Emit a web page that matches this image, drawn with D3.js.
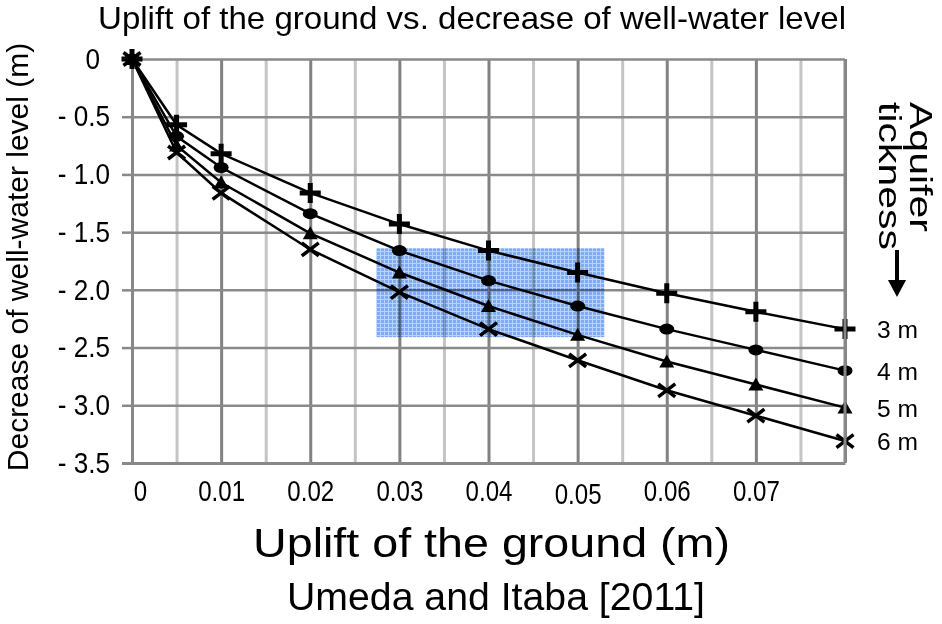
<!DOCTYPE html>
<html>
<head>
<meta charset="utf-8">
<script src="https://cdn.jsdelivr.net/npm/d3@7"></script>
<style>
  body { margin: 0; background: #fff; }
  svg { font-family: "Liberation Sans", Arial, sans-serif; display: block; }
</style>
</head>
<body>
<div id="chart"></div>
<script>
// plot box: x 132..845, y 59..463
const MARGIN = { LEFT: 132, RIGHT: 97, TOP: 59, BOTTOM: 161 }
const WIDTH = 942 - MARGIN.LEFT - MARGIN.RIGHT
const HEIGHT = 624 - MARGIN.TOP - MARGIN.BOTTOM

// uplift of the ground (m)
const uplift = [0, 0.005, 0.01, 0.02, 0.03, 0.04, 0.05, 0.06, 0.07, 0.08]
// decrease of well-water level (m) for each aquifer thickness
const thick3m = [0, -0.57, -0.82, -1.16, -1.43, -1.66, -1.85, -2.03, -2.19, -2.34]
const thick4m = [0, -0.67, -0.94, -1.34, -1.66, -1.92, -2.14, -2.34, -2.52, -2.70]
const thick5m = [0, -0.75, -1.07, -1.51, -1.85, -2.14, -2.39, -2.62, -2.82, -3.02]
const thick6m = [0, -0.81, -1.16, -1.65, -2.02, -2.34, -2.61, -2.87, -3.09, -3.31]
const seriesNames = ["3 m", "4 m", "5 m", "6 m"]
const seriesMarkers = ["plus", "circle", "triangle", "cross"]

const xTicks = [0, 0.01, 0.02, 0.03, 0.04, 0.05, 0.06, 0.07]
const xGridTicks = [0.005, 0.01, 0.015, 0.02, 0.025, 0.03, 0.035, 0.04, 0.045, 0.05, 0.055, 0.06, 0.065, 0.07, 0.075, 0.08]
const yTicks = [0, -0.5, -1.0, -1.5, -2.0, -2.5, -3.0, -3.5]

// shaded band
const bandX = [0.0274, 0.053]
const bandY = [-1.64, -2.41]

const svg = d3.select("#chart").append("svg")
  .attr("width", 942)
  .attr("height", 624)

const defs = svg.append("defs")
const pat = defs.append("pattern")
  .attr("id", "dots")
  .attr("width", 4).attr("height", 4)
  .attr("patternUnits", "userSpaceOnUse")
pat.append("rect").attr("width", 4).attr("height", 4).attr("fill", "#7eabf4")
pat.append("rect").attr("width", 4).attr("height", 1).attr("fill", "#b8d2fb")
pat.append("rect").attr("width", 1).attr("height", 4).attr("fill", "#b8d2fb")

const g = svg.append("g")
  .attr("transform", `translate(${MARGIN.LEFT}, ${MARGIN.TOP})`)

const x = d3.scaleLinear().domain([0, 0.08]).range([0, WIDTH])
const y = d3.scaleLinear().domain([0, -3.5]).range([0, HEIGHT])

// vertical grid
const vGrid = g.append("g")
  .attr("transform", `translate(0, ${HEIGHT})`)
  .call(d3.axisBottom(x).tickValues(xGridTicks).tickSize(-HEIGHT).tickFormat(""))
vGrid.select(".domain").remove()
vGrid.selectAll(".tick line")
  .attr("stroke", d => Math.round(d * 1000) % 10 === 0 ? "#828282" : "#c4c4c4")
  .attr("stroke-width", 3)

// horizontal grid
const hGrid = g.append("g")
  .call(d3.axisLeft(y).tickValues(yTicks.slice(0, -1)).tickSize(-WIDTH).tickFormat(""))
hGrid.select(".domain").remove()
hGrid.selectAll(".tick line").attr("stroke", "#8a8a8a").attr("stroke-width", 2.5)

// y axis
const yAxis = g.append("g")
  .call(d3.axisLeft(y).tickValues(yTicks).tickSize(10).tickPadding(12)
    .tickFormat(d => d === 0 ? "0" : "- " + Math.abs(d).toFixed(1)))
yAxis.select(".domain").attr("stroke", "#888").attr("stroke-width", 3)
yAxis.selectAll(".tick line").attr("stroke", "#888").attr("stroke-width", 2.5)
yAxis.selectAll(".tick text")
  .attr("font-size", 29)
  .attr("fill", "#000")
  .attr("dx", d => d === 0 ? -10 : 0)

// x axis
const xAxis = g.append("g")
  .attr("transform", `translate(0, ${HEIGHT})`)
  .call(d3.axisBottom(x).tickValues(xTicks).tickSize(0).tickPadding(17)
    .tickFormat(d => d === 0 ? "0" : d3.format(".2f")(d)))
xAxis.select(".domain").attr("stroke", "#888").attr("stroke-width", 3)
xAxis.selectAll(".tick text")
  .attr("font-size", 29)
  .attr("fill", "#000")
  .attr("dx", d => d === 0 ? 8 : 0)
  .attr("dy", d => d === 0.05 ? "0.82em" : "0.71em")

function squeeze(sel, k) {
  sel.each(function() {
    const len = this.getComputedTextLength()
    d3.select(this).attr("textLength", len * k).attr("lengthAdjust", "spacingAndGlyphs")
  })
}
squeeze(yAxis.selectAll(".tick text"), 0.9)
squeeze(xAxis.selectAll(".tick text"), 0.83)

// series
const allSeries = [thick3m, thick4m, thick5m, thick6m].map((vals, i) => ({
  name: seriesNames[i],
  marker: seriesMarkers[i],
  points: vals.map((v, j) => ({ u: uplift[j], d: v }))
}))

const line = d3.line().x(p => x(p.u)).y(p => y(p.d))

g.selectAll(".series-line")
  .data(allSeries)
  .enter()
  .append("path")
  .attr("class", "series-line")
  .attr("d", s => line(s.points))
  .attr("fill", "none")
  .attr("stroke", "#000")
  .attr("stroke-width", 2.5)

function drawMarker(sel, type) {
  if (type === "plus") {
    sel.append("path").attr("d", "M-10.5,0H10.5M0,-10V10")
      .attr("stroke", "#000").attr("stroke-width", 5)
  } else if (type === "circle") {
    sel.append("ellipse").attr("rx", 7.5).attr("ry", 5.5).attr("fill", "#000")
  } else if (type === "triangle") {
    sel.append("path").attr("d", "M0,-7L7.5,6H-7.5Z").attr("fill", "#000")
  } else {
    sel.append("path").attr("d", "M-8.5,-6.5L8.5,6.5M-8.5,6.5L8.5,-6.5")
      .attr("stroke", "#000").attr("stroke-width", 3.5)
  }
}

allSeries.forEach(s => {
  const m = g.append("g").selectAll("g")
    .data(s.points)
    .enter()
    .append("g")
    .attr("transform", p => `translate(${x(p.u)}, ${y(p.d)})`)
  drawMarker(m, s.marker)
})

// right border
g.append("line")
  .attr("x1", x(0.08)).attr("x2", x(0.08))
  .attr("y1", 0).attr("y2", HEIGHT)
  .attr("stroke", "#888").attr("stroke-width", 3)

// shaded band
g.append("rect")
  .attr("x", x(bandX[0]))
  .attr("y", y(bandY[0]))
  .attr("width", x(bandX[1]) - x(bandX[0]))
  .attr("height", y(bandY[1]) - y(bandY[0]))
  .attr("fill", "url(#dots)")
  .style("mix-blend-mode", "multiply")

// series labels on the right
g.selectAll(".series-label")
  .data(allSeries)
  .enter()
  .append("text")
  .attr("class", "series-label")
  .attr("x", WIDTH + 32)
  .attr("y", s => y(s.points[s.points.length - 1].d) + 9)
  .attr("font-size", 24)
  .attr("textLength", 41).attr("lengthAdjust", "spacingAndGlyphs")
  .text(s => s.name)

// titles
svg.append("text")
  .attr("x", 98).attr("y", 29)
  .attr("font-size", 32)
  .attr("textLength", 748).attr("lengthAdjust", "spacingAndGlyphs")
  .text("Uplift of the ground vs. decrease of well-water level")

svg.append("text")
  .attr("transform", "translate(28, 257) rotate(-90)")
  .attr("text-anchor", "middle")
  .attr("font-size", 30)
  .text("Decrease of well-water level (m)")

svg.append("text")
  .attr("x", 253).attr("y", 557)
  .attr("font-size", 40)
  .attr("textLength", 477).attr("lengthAdjust", "spacingAndGlyphs")
  .text("Uplift of the ground (m)")

svg.append("text")
  .attr("x", 287).attr("y", 610)
  .attr("font-size", 38)
  .attr("textLength", 418).attr("lengthAdjust", "spacingAndGlyphs")
  .text("Umeda and Itaba [2011]")

// aquifer thickness note
svg.append("text")
  .attr("transform", "translate(910, 102) rotate(90)")
  .attr("font-size", 32)
  .attr("textLength", 130).attr("lengthAdjust", "spacingAndGlyphs")
  .text("Aquifer")
svg.append("text")
  .attr("transform", "translate(879, 102) rotate(90)")
  .attr("font-size", 32)
  .attr("textLength", 148).attr("lengthAdjust", "spacingAndGlyphs")
  .text("tickness")
svg.append("line")
  .attr("x1", 897).attr("x2", 897)
  .attr("y1", 250).attr("y2", 282)
  .attr("stroke", "#000").attr("stroke-width", 4)
svg.append("path")
  .attr("d", "M888,280L906,280L897,297Z")
  .attr("fill", "#000")
</script>
</body>
</html>
